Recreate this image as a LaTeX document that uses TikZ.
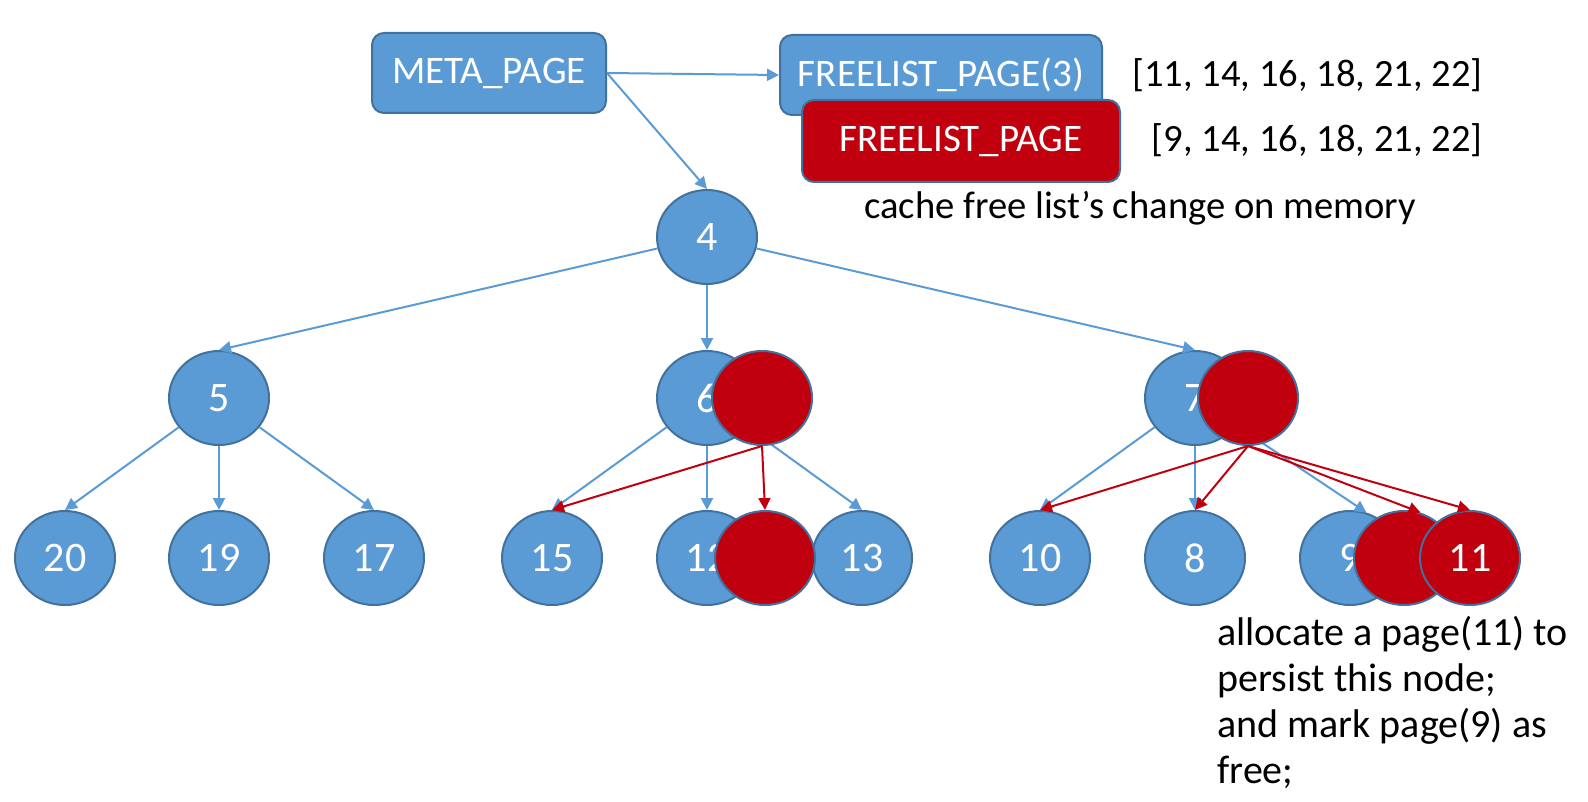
\documentclass[tikz,border=0pt]{standalone}
\usepackage{fontspec}
\setmainfont{Carlito}
\usetikzlibrary{shapes.geometric,arrows.meta}
\definecolor{pageblue}{HTML}{5B9BD5}
\definecolor{pageedge}{HTML}{41719C}
\definecolor{pagered}{HTML}{C0000F}
\tikzset{
	page/.style={ellipse, draw=pageedge, line width=1pt, fill=pageblue, text=white, minimum width=50pt, minimum height=47pt, inner sep=0pt, font=\fontsize{21}{24}\selectfont},
	dirty/.style={page, fill=pagered},
	pagebox/.style={rectangle, rounded corners=6pt, draw=pageedge, line width=1pt, fill=pageblue, text=white, inner sep=0pt, font=\fontsize{19.5}{22}\selectfont},
	link/.style={pageblue, line width=1pt, -{Triangle[length=6pt,width=6pt]}},
	cow/.style={pagered, line width=1pt, -{Triangle[length=6pt,width=6pt]}},
	note/.style={font=\fontsize{19.3}{23}\selectfont, text=black, inner sep=0pt}
}

\begin{document}
\begin{tikzpicture}[x=0.5pt,y=-0.5pt]
		\useasboundingbox (0,0) rectangle (1588,802);
		\node[pagebox, minimum width=117pt, minimum height=40pt] (meta) at (489,73) {META\_PAGE};
		\node[pagebox, minimum width=161pt, minimum height=40pt] (fl3) at (941,75) {FREELIST\_PAGE(3)};
		\node[pagebox, fill=pagered, minimum width=159pt, minimum height=41pt] (flmem) at (961,141) {FREELIST\_PAGE};
		\node[note, anchor=east] (oldlist) at (1483,75) {[11, 14, 16, 18, 21, 22]};
		\node[note, anchor=east] (newlist) at (1483,140) {[9, 14, 16, 18, 21, 22]};
		\node[note] (cachenote) at (1140,208) {cache free list’s change on memory};
		\node[page] (n4) at (707,237) {4};
		\node[page] (n5) at (219,398) {5};
		\node[page] (n6) at (707,398) {6};
		\node[page] (n7) at (1195,398) {7};
		\node[page] (n20) at (65,558) {20};
		\node[page] (n19) at (219,558) {19};
		\node[page] (n17) at (374,558) {17};
		\node[page] (n15) at (552,558) {15};
		\node[page] (n12) at (707,558) {12};
		\node[page] (n13) at (862,558) {13};
		\node[page] (n10) at (1040,558) {10};
		\node[page] (n8) at (1195,558) {8};
		\node[page] (n9) at (1350,558) {9};
		\draw[link] (meta.east) -- (fl3.west);
		\draw[link] (meta.east) -- (n4.north);
		\draw[link] (n4) -- (n5.north);
		\draw[link] (n4) -- (n6.north);
		\draw[link] (n4) -- (n7.north);
		\draw[link] (n5) -- (n20.north);
		\draw[link] (n5) -- (n19.north);
		\draw[link] (n5) -- (n17.north);
		\draw[link] (n6) -- (n15.north);
		\draw[link] (n6) -- (n12.north);
		\draw[link] (n6) -- (n13.north);
		\draw[link] (n7) -- (n10.north);
		\draw[link] (n7) -- (n8.north);
		\draw[link] (n7) -- (n9.70);
		\node[dirty] (r6) at (762,398) {};
		\node[dirty] (r7) at (1248,398) {};
		\node[dirty] (r12) at (765,558) {};
		\node[dirty] (r9) at (1404,558) {};
		\node[dirty] (n11) at (1470,558) {11};
		\draw[cow] (r6.south) -- (n15.north);
		\draw[cow] (r6.south) -- (r12.north);
		\draw[cow] (r7.south) -- (n10.north);
		\draw[cow] (r7.south) -- (n8.north);
		\draw[cow] (r7.south) -- (r9.70);
		\draw[cow] (r7.south) -- (n11.north);
		\node[note, font=\fontsize{20}{23}\selectfont, anchor=north west, align=left] (allocnote) at (1217,616) {allocate a page(11) to\\persist this node;\\and mark page(9) as\\free;};
\end{tikzpicture}
\end{document}
